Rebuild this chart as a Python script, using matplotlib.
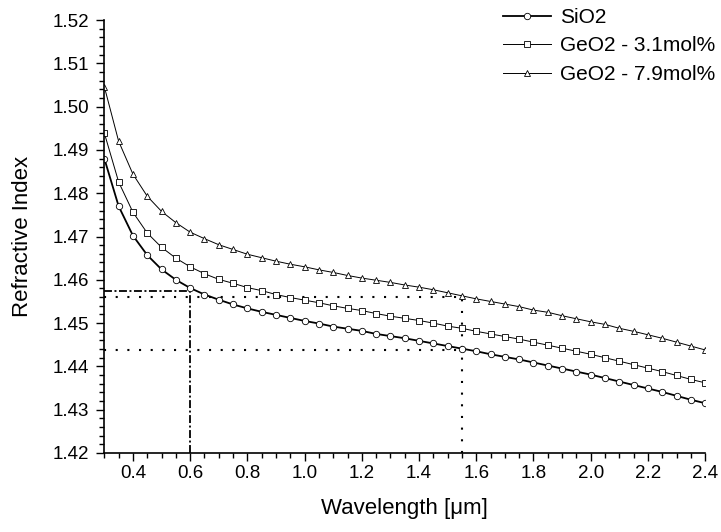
import matplotlib
matplotlib.use("Agg")
import matplotlib.pyplot as plt
from matplotlib.ticker import MultipleLocator, FormatStrFormatter

plt.rcParams['font.family'] = ['Liberation Sans', 'DejaVu Sans']

# wavelength grid [um]
WAVELENGTH = [0.30, 0.35, 0.40, 0.45, 0.50, 0.55, 0.60, 0.65, 0.70, 0.75,
              0.80, 0.85, 0.90, 0.95, 1.00, 1.05, 1.10, 1.15, 1.20, 1.25,
              1.30, 1.35, 1.40, 1.45, 1.50, 1.55, 1.60, 1.65, 1.70, 1.75,
              1.80, 1.85, 1.90, 1.95, 2.00, 2.05, 2.10, 2.15, 2.20, 2.25,
              2.30, 2.35, 2.40]

N_SIO2 = [1.4880, 1.4770, 1.4702, 1.4657, 1.4624, 1.4600, 1.4581, 1.4566, 1.4554, 1.4543,
          1.4534, 1.4526, 1.4519, 1.4512, 1.4505, 1.4499, 1.4492, 1.4487, 1.4482, 1.4475,
          1.4470, 1.4465, 1.4459, 1.4453, 1.4447, 1.4441, 1.4435, 1.4428, 1.4422, 1.4416,
          1.4409, 1.4402, 1.4395, 1.4388, 1.4381, 1.4373, 1.4365, 1.4357, 1.4349, 1.4341,
          1.4332, 1.4323, 1.4315]

N_GEO2_31 = [1.4939, 1.4826, 1.4756, 1.4708, 1.4675, 1.4650, 1.4630, 1.4614, 1.4601, 1.4592,
             1.4582, 1.4575, 1.4566, 1.4559, 1.4553, 1.4547, 1.4540, 1.4534, 1.4529, 1.4522,
             1.4516, 1.4511, 1.4506, 1.4500, 1.4493, 1.4488, 1.4481, 1.4475, 1.4469, 1.4463,
             1.4456, 1.4449, 1.4442, 1.4435, 1.4428, 1.4420, 1.4412, 1.4404, 1.4396, 1.4388,
             1.4379, 1.4370, 1.4362]

N_GEO2_79 = [1.5046, 1.4920, 1.4844, 1.4793, 1.4758, 1.4732, 1.4710, 1.4695, 1.4681, 1.4670,
             1.4659, 1.4651, 1.4643, 1.4636, 1.4630, 1.4623, 1.4617, 1.4610, 1.4604, 1.4599,
             1.4594, 1.4588, 1.4583, 1.4577, 1.4570, 1.4563, 1.4556, 1.4550, 1.4544, 1.4538,
             1.4530, 1.4525, 1.4517, 1.4510, 1.4503, 1.4497, 1.4488, 1.4481, 1.4473, 1.4465,
             1.4456, 1.4447, 1.4438]

SERIES_LABELS = ["SiO2", "GeO2 - 3.1mol%", "GeO2 - 7.9mol%"]

# guide lines: 0.6 um (dash-dot) and 1.55 um (dotted)
REF_WL_VIS = 0.6
REF_N_VIS = 1.4574
REF_WL_IR = 1.55
REF_N_IR_HIGH = 1.4561
REF_N_IR_LOW = 1.4437

X_MIN, X_MAX = 0.3, 2.4
Y_MIN, Y_MAX = 1.42, 1.52


def plot_index():
    fig = plt.figure(figsize=(7.21, 5.32), dpi=100)
    ax = fig.add_axes([0.1447, 0.1485, 0.8333, 0.8139])

    # guide lines
    dashdot = (0, (4.4, 1.4, 1.1, 1.4))
    dotted = (0, (1, 4.6))
    ax.plot([X_MIN, REF_WL_VIS], [REF_N_VIS, REF_N_VIS], color="black", lw=1.3, linestyle=dashdot)
    ax.plot([REF_WL_VIS, REF_WL_VIS], [Y_MIN, REF_N_VIS], color="black", lw=1.3, linestyle=dashdot)
    ax.plot([X_MIN, REF_WL_IR], [REF_N_IR_HIGH, REF_N_IR_HIGH], color="black", lw=1.5, linestyle=dotted)
    ax.plot([X_MIN, REF_WL_IR], [REF_N_IR_LOW, REF_N_IR_LOW], color="black", lw=1.5, linestyle=dotted)
    ax.plot([REF_WL_IR, REF_WL_IR], [Y_MIN, REF_N_IR_HIGH], color="black", lw=1.5, linestyle=dotted)

    ax.plot(WAVELENGTH, N_SIO2, color="black", lw=1.3, marker="o", ms=4.6,
            mfc="white", mec="black", mew=0.6, label=SERIES_LABELS[0])
    ax.plot(WAVELENGTH, N_GEO2_31, color="black", lw=0.7, marker="s", ms=4.2,
            mfc="white", mec="black", mew=0.6, label=SERIES_LABELS[1])
    ax.plot(WAVELENGTH, N_GEO2_79, color="black", lw=0.7, marker="^", ms=5.0,
            mfc="white", mec="black", mew=0.6, label=SERIES_LABELS[2])

    ax.set_xlim(X_MIN, X_MAX)
    ax.set_ylim(Y_MIN, Y_MAX)
    ax.xaxis.set_major_locator(MultipleLocator(0.2))
    ax.xaxis.set_minor_locator(MultipleLocator(0.05))
    ax.yaxis.set_major_locator(MultipleLocator(0.01))
    ax.yaxis.set_minor_locator(MultipleLocator(0.002))
    ax.xaxis.set_major_formatter(FormatStrFormatter("%.1f"))
    ax.yaxis.set_major_formatter(FormatStrFormatter("%.2f"))
    ax.set_xticks([0.4, 0.6, 0.8, 1.0, 1.2, 1.4, 1.6, 1.8, 2.0, 2.2, 2.4])

    for side in ["top", "right"]:
        ax.spines[side].set_visible(False)
    for side in ["left", "bottom"]:
        ax.spines[side].set_linewidth(1.2)

    fs = 13.5
    ax.tick_params(axis="both", which="major", direction="out", length=6, width=1.0,
                   labelsize=fs, colors="black", pad=5)
    ax.tick_params(axis="both", which="minor", direction="out", length=3.5, width=1.0)
    ax.tick_params(axis="x", which="major", pad=3)

    ax.set_xlabel("Wavelength [μm]", fontsize=16, labelpad=11)
    ax.set_ylabel("Refractive Index", fontsize=16, labelpad=14)

    fig.legend(loc="upper right", bbox_to_anchor=(1.018, 1.02), frameon=False,
               fontsize=15, handlelength=2.3, handletextpad=0.45, labelspacing=0.45)

    fig.savefig("out.png", dpi=100)
    plt.close(fig)


if __name__ == "__main__":
    plot_index()
